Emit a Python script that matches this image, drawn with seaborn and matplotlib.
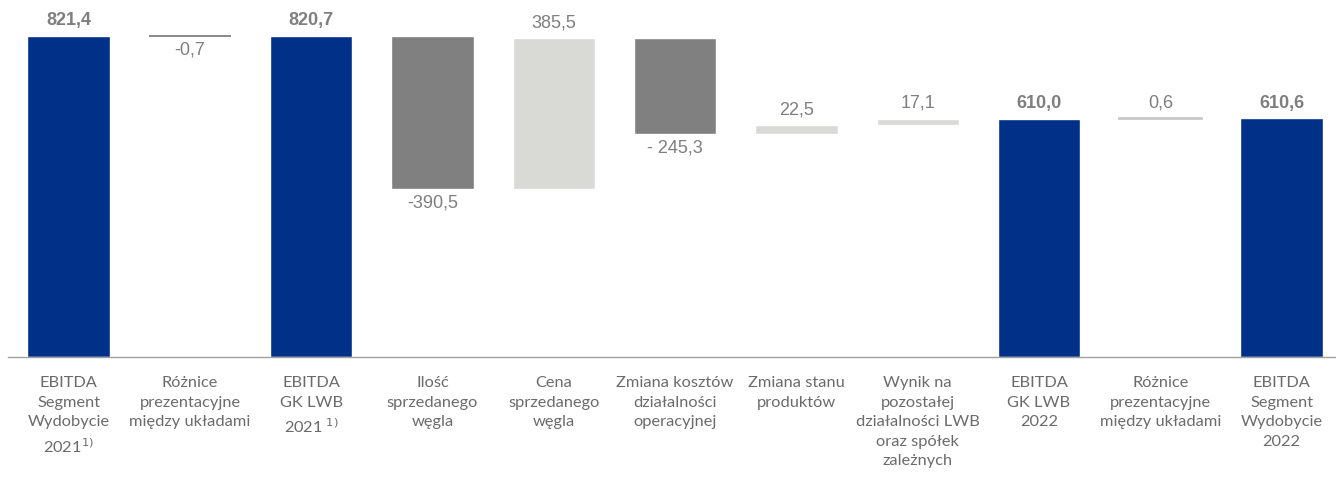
import matplotlib
matplotlib.use("Agg")
import matplotlib.pyplot as plt
import numpy as np
import pandas as pd
import seaborn as sns

sns.set_theme(style="white")
plt.rcParams["font.family"] = ["Lato", "DejaVu Sans"]

# categories (x tick labels)
categories = [
    "EBITDA\nSegment\nWydobycie\n2021$^{1)}$",
    "Różnice\nprezentacyjne\nmiędzy układami",
    "EBITDA\nGK LWB\n2021$^{\\ 1)}$",
    "Ilość\nsprzedanego\nwęgla",
    "Cena\nsprzedanego\nwęgla",
    "Zmiana kosztów\ndziałalności\noperacyjnej",
    "Zmiana stanu\nproduktów",
    "Wynik na\npozostałej\ndziałalności LWB\noraz spółek\nzależnych",
    "EBITDA\nGK LWB\n2022",
    "Różnice\nprezentacyjne\nmiędzy układami",
    "EBITDA\nSegment\nWydobycie\n2022",
]
# values: totals and changes
values = [821.4, -0.7, 820.7, -390.5, 385.5, -245.3, 22.5, 17.1, 610.0, 0.6, 610.6]
is_total = [True, False, True, False, False, False, False, False, True, False, True]
value_labels = ["821,4", "-0,7", "820,7", "-390,5", "385,5", "- 245,3",
                "22,5", "17,1", "610,0", "0,6", "610,6"]

BLUE = "#003087"
DARK = "#808080"
LIGHT = "#d9d9d6"
TEXT = "#7f7f7f"

# floating bar bottoms / tops
bottoms, tops = [], []
running = 0.0
for v, tot in zip(values, is_total):
    if tot:
        bottoms.append(0.0)
        tops.append(v)
        running = v
    else:
        lo, hi = sorted([running, running + v])
        bottoms.append(lo)
        tops.append(hi)
        running += v

colors = []
for v, tot in zip(values, is_total):
    if tot:
        colors.append(BLUE)
    elif v < 0:
        colors.append(DARK)
    else:
        colors.append(LIGHT)

df = pd.DataFrame({"cat": [f"c{i}" for i in range(len(values))],
                   "top": tops, "bottom": bottoms})

fig = plt.figure(figsize=(13.36, 4.78), dpi=100)
ax = fig.add_axes([8 / 1336, 1 - 357 / 478, 11 * 121.3 / 1336, (357 - 5.4) / 478])

sns.barplot(data=df, x="cat", y="top", hue="cat", palette=colors,
            legend=False, width=0.68, saturation=1, ax=ax)

for i, p in enumerate(ax.patches):
    b, t = bottoms[i], tops[i]
    p.set_y(b)
    p.set_height(t - b)
    if t - b < 2:
        # very small change: draw as a thin line
        p.set_edgecolor(DARK if values[i] < 0 else "#c8c8c8")
        p.set_linewidth(1.3)
        p.set_facecolor(p.get_edgecolor())

for i, v in enumerate(values):
    if is_total[i] or v > 0:
        y, va, off = tops[i], "bottom", 5
    else:
        y, va, off = bottoms[i], "top", -4
    ax.annotate(value_labels[i], (i, y), xytext=(0, off), textcoords="offset points",
                ha="center", va=va, fontsize=13, color=TEXT,
                family=["Liberation Sans", "DejaVu Sans"],
                fontweight="bold" if is_total[i] else "normal")

ax.set_xlim(-0.5, len(values) - 0.5)
ax.set_ylim(0, 900)
ax.set_xlabel("")
ax.set_ylabel("")
ax.set_yticks([])
ax.set_xticks(range(len(values)))
ax.set_xticklabels(categories, fontsize=11.8, color="#6b6b6b", linespacing=1.5)
ax.tick_params(axis="x", which="major", length=0, pad=14)
ax.set_xticks(np.arange(-0.5, len(values), 1.0), minor=True)
ax.tick_params(axis="x", which="minor", length=5, width=1, color="#a0a0a0", direction="out")
for s in ["top", "right", "left"]:
    ax.spines[s].set_visible(False)
ax.spines["bottom"].set_color("#a0a0a0")
ax.spines["bottom"].set_linewidth(1)

fig.savefig("out.png", dpi=100)
